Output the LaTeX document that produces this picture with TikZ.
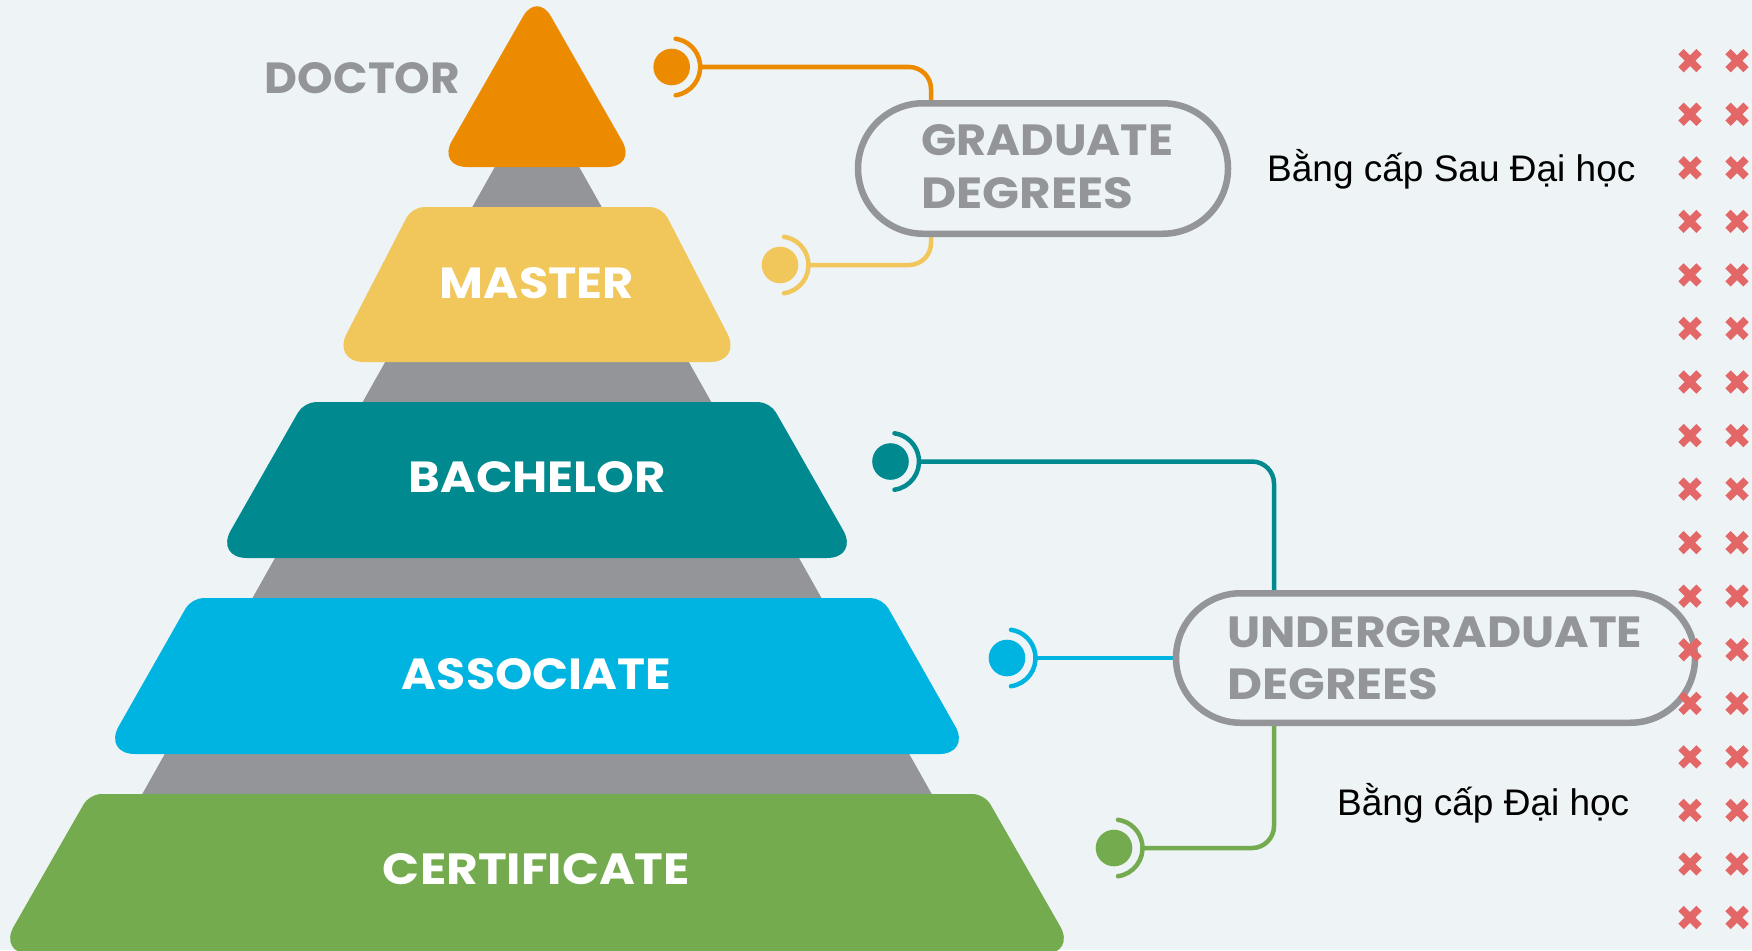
\documentclass[tikz,border=0pt]{standalone}
\usepackage{fontspec}
\usepackage{graphicx}
\usetikzlibrary{shapes.misc}
\newfontfamily\headfont{Poppins}
\newfontfamily\vnfont{Liberation Sans}
\definecolor{bg}{HTML}{EEF3F6}
\definecolor{pgray}{HTML}{939598}
\definecolor{cdoc}{HTML}{EC8B00}
\definecolor{cmaster}{HTML}{F1C75B}
\definecolor{cbach}{HTML}{008A8F}
\definecolor{cassoc}{HTML}{00B4E1}
\definecolor{ccert}{HTML}{75AB4F}
\definecolor{xred}{HTML}{E36767}
\newcommand\fitlab[3]{\resizebox{#1pt}{#2pt}{\headfont\bfseries #3}}
% layer: top y, bottom y, top half width, bottom half width
\newcommand\layerpath[4]{%
  (537,#1) [rounded corners=12pt] -- ({537+#3},#1) -- ({537+(#3+#4)/2},{(#1+#2)/2})
  [rounded corners=32pt] -- ({537+#4},#2) -- ({537-#4},#2) -- ({537-(#3+#4)/2},{(#1+#2)/2})
  [rounded corners=12pt] -- ({537-#3},#1) -- cycle}
\begin{document}
\begin{tikzpicture}[x=1pt,y=-1pt,
  conn/.style={line width=4.5pt, rounded corners=22pt},
  bubdot/.style={circle, inner sep=0pt, minimum size=36.6pt},
  bubarc/.style={line width=4.5pt, line cap=round},
  pill/.style={rounded rectangle, draw=pgray, line width=6.5pt, inner sep=0pt},
  lab/.style={inner sep=0pt, text=white, anchor=base},
  glab/.style={inner sep=0pt, text=pgray, anchor=base west},
  vn/.style={inner sep=0pt, anchor=base west, font=\vnfont\fontsize{37}{44}\selectfont},
  xm/.style={draw=xred, line width=7.5pt}
]
\useasboundingbox (0,0) rectangle (1752,950);
\fill[bg] (0,0) rectangle (1752,950);

% grey pyramid core
\fill[pgray] (537,92) -- (1020,951) -- (54,951) -- cycle;

% layers
\fill[cmaster] \layerpath{207}{362}{125}{205};
\fill[cbach] \layerpath{402}{558}{233}{322};
\fill[cassoc] \layerpath{598}{754}{345.5}{434};
\fill[ccert] \layerpath{794}{954}{447.5}{539};
\fill[cdoc] (537,167) [rounded corners=30pt] -- (437,167) -- (487,79.5)
  [rounded corners=28pt] -- (537,-8) -- (587,79.5)
  [rounded corners=30pt] -- (637,167) -- cycle;

% layer labels
\node[lab] (tM) at (537,298.5) {\fitlab{194}{31}{MASTER}};
\node[lab] (tB) at (537.5,492.5) {\fitlab{257}{31}{BACHELOR}};
\node[lab] (tA) at (536.5,689.5) {\fitlab{269}{31}{ASSOCIATE}};
\node[lab] (tC) at (536.5,884.5) {\fitlab{307}{31}{CERTIFICATE}};
\node[lab, text=pgray] (tD) at (362.5,93.5) {\fitlab{195}{31}{DOCTOR}};

% junction x positions
\coordinate (jG) at (931,0);
\coordinate (jU) at (1274,0);

% pills (positions)
\path (1043,168.5) node[pill, draw=none, minimum width=370pt, minimum height=130.5pt] (grad) {};
\path (1435.5,658) node[pill, draw=none, minimum width=519pt, minimum height=129.5pt] (ugrad) {};

% bubbles
\node[bubdot, fill=cdoc] (bD) at (671.7,67) {};
\draw[bubarc, cdoc] ([shift={(82:28.5)}]bD.center) arc[start angle=82, end angle=-82, radius=28.5];
\coordinate (aD) at (700.2,67);
\node[bubdot, fill=cmaster] (bM) at (780,265) {};
\draw[bubarc, cmaster] ([shift={(82:28.5)}]bM.center) arc[start angle=82, end angle=-82, radius=28.5];
\coordinate (aM) at (808.5,265);
\node[bubdot, fill=cbach] (bB) at (890.5,461.5) {};
\draw[bubarc, cbach] ([shift={(82:28.5)}]bB.center) arc[start angle=82, end angle=-82, radius=28.5];
\coordinate (aB) at (919,461.5);
\node[bubdot, fill=cassoc] (bA) at (1007,658) {};
\draw[bubarc, cassoc] ([shift={(82:28.5)}]bA.center) arc[start angle=82, end angle=-82, radius=28.5];
\coordinate (aA) at (1035.5,658);
\node[bubdot, fill=ccert] (bC) at (1114,848) {};
\draw[bubarc, ccert] ([shift={(82:28.5)}]bC.center) arc[start angle=82, end angle=-82, radius=28.5];
\coordinate (aC) at (1142.5,848);

% connectors
\draw[conn, cdoc] (aD) -| (jG |- grad.north);
\draw[conn, cmaster] (aM) -| (jG |- grad.south);
\draw[conn, cbach] (aB) -| (jU |- ugrad.north);
\draw[conn, cassoc] (aA) -- (ugrad.west);
\draw[conn, ccert] (aC) -| (jU |- ugrad.south);

% pill outlines
\node[pill, minimum width=370pt, minimum height=130.5pt] at (grad.center) {};
\node[pill, minimum width=519pt, minimum height=129.5pt] at (ugrad.center) {};

% pill labels
\node[glab] (gL1) at (921,155.5) {\fitlab{252}{31}{GRADUATE}};
\node[glab] (gL2) at (921,208.5) {\fitlab{212}{31}{DEGREES}};
\node[glab] (uL1) at (1227,647.5) {\fitlab{415}{31}{UNDERGRADUATE}};
\node[glab] (uL2) at (1227,699.5) {\fitlab{211}{31}{DEGREES}};

% Vietnamese captions
\node[vn] (vn1) at (1267,181) {Bằng cấp Sau Đại học};
\node[vn] (vn2) at (1337,815) {Bằng cấp Đại học};

% red crosses
\foreach \i in {0,...,16}{
  \foreach \xx in {1690,1737}{
    \draw[xm] ({\xx-9},{60.7+53.55*\i-9}) -- ++(18,18)
              ({\xx+9},{60.7+53.55*\i-9}) -- ++(-18,18);
  }
}
\end{tikzpicture}
\end{document}
